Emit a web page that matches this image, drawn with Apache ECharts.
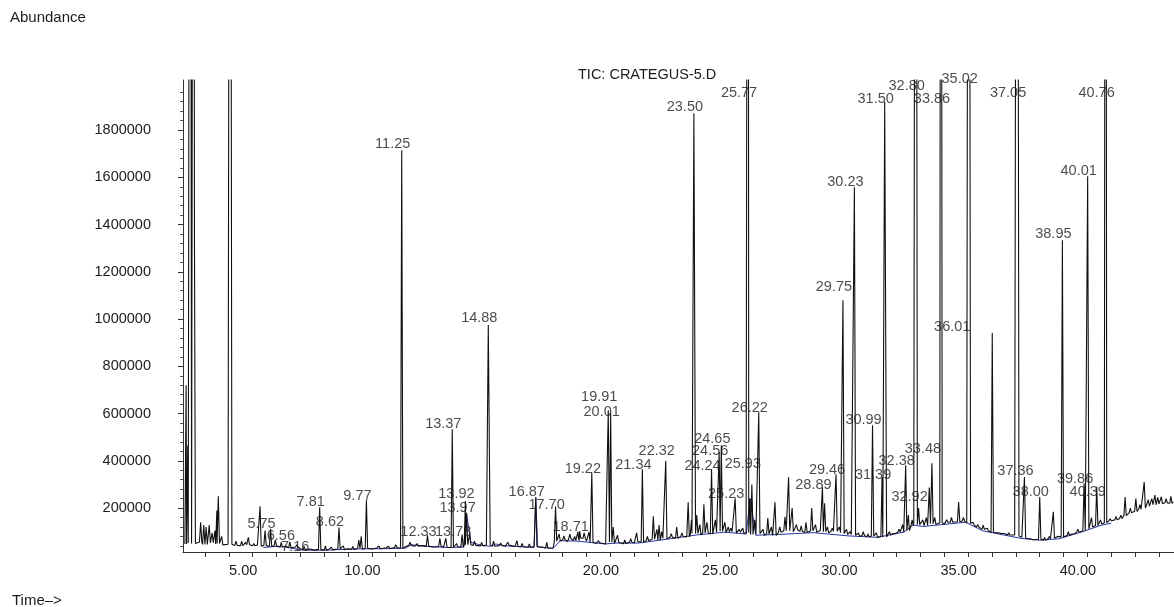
<!DOCTYPE html>
<html>
<head>
<meta charset="utf-8">
<script src="https://cdn.jsdelivr.net/npm/echarts@6.0.0/dist/echarts.min.js"></script>
<style>
html, body { margin: 0; padding: 0; background: #fff; }
#tic { width: 1174px; height: 607px; }
</style>
</head>
<body>
<div id="tic"></div>
<script>
// axis ranges and tick labels
var timeMin = 2.08, timeMax = 43.63;
var timeTicks = [5, 10, 15, 20, 25, 30, 35, 40];
var abundMin = 14000, abundMax = 2012000;
var abundTicks = [200000, 400000, 600000, 800000, 1000000, 1200000, 1400000, 1600000, 1800000];

// baseline of the trace, one value every 0.2 min from 2.2 min (thousands)
var baseStart = 2.2, baseStep = 0.2;
var baseK = [48, 52,
    50, 56, 46, 53, 48,   50, 44, 47, 42, 46,   41, 45, 40, 44, 38,   42, 37, 40, 35, 38,
    32, 35, 28, 24, 27,   22, 25, 21, 26, 23,   27, 24, 28, 25, 29,   26, 30, 27, 31, 28,
    32, 29, 33, 30, 36,   42, 38, 41, 36, 39,   35, 38, 34, 37, 33,   36, 34, 45, 48, 42,
    40, 44, 38, 45, 41,   39, 43, 37, 41, 36,   34, 37, 32, 35, 30,   31, 60, 66, 58, 70,
    63, 72, 60, 55, 50,   53, 48, 56, 50, 54,   49, 55, 52, 58, 56,   62, 68, 64, 72, 70,
    76, 72, 80, 78, 88,   92, 86, 95, 90, 98,   102, 96, 100, 94, 98,  92, 96, 88, 92, 85,
    90, 84, 92, 98, 104,  100, 108, 102, 96, 104, 98, 106, 100, 95, 102, 96, 92, 88, 84, 80,
    84, 78, 82, 76, 80,   78, 86, 92, 98, 105,  125, 138, 130, 126, 134, 130, 138, 132, 140, 136,
    142, 145, 136, 128, 120, 110, 104, 98, 95, 92, 90, 86, 82, 76, 72,  70, 66, 68, 64, 70,
    72, 75, 78, 84, 90,   98, 104, 112, 120, 126, 132, 138, 146, 150, 156, 168, 180, 186, 195, 200,
    208, 214, 218, 222, 220, 226];

// peaks: retention time (min) and apex (thousands); off-scale peaks estimated
var peakRT = [2.21, 2.28, 2.38, 2.52, 2.56, 2.82, 2.95, 3.05, 3.18, 3.30, 3.42, 3.50, 3.56, 3.70,
    4.05, 4.30, 4.54, 4.70, 4.82, 5.05, 5.31, 5.52, 5.75, 5.95, 6.20, 6.56, 6.85, 7.16, 7.81,
    8.05, 8.30, 8.62, 8.80, 9.20, 9.45, 9.55, 9.77, 10.30, 10.70, 11.00, 11.25, 11.60, 11.90,
    12.10, 12.33, 12.60, 12.85, 13.10, 13.37, 13.55, 13.78, 13.92, 13.97, 14.10, 14.30, 14.60,
    14.88, 15.10, 15.40, 15.70, 16.08, 16.30, 16.60, 16.87, 17.10, 17.33, 17.70, 17.85, 18.05,
    18.30, 18.50, 18.64, 18.71, 18.90, 19.10, 19.22, 19.50, 19.91, 20.01, 20.12, 20.30, 20.60,
    20.85, 21.10, 21.34, 21.55, 21.80, 21.95, 22.04, 22.15, 22.32, 22.55, 22.78, 23.00, 23.26,
    23.40, 23.50, 23.62, 23.75, 23.92, 24.05, 24.24, 24.40, 24.56, 24.65, 24.80, 24.94, 25.05,
    25.23, 25.40, 25.55, 25.77, 25.85, 25.93, 26.05, 26.22, 26.40, 26.60, 26.75, 26.90, 27.10,
    27.32, 27.47, 27.62, 27.80, 28.00, 28.20, 28.44, 28.60, 28.89, 28.98, 29.10, 29.30, 29.46,
    29.60, 29.75, 29.90, 30.05, 30.23, 30.40, 30.60, 30.80, 30.99, 31.15, 31.39, 31.50, 31.70,
    31.90, 32.10, 32.25, 32.38, 32.49, 32.65, 32.80, 32.92, 33.10, 33.25, 33.37, 33.48, 33.60,
    33.86, 34.10, 34.30, 34.60, 34.80, 35.02, 35.20, 35.40, 35.63, 35.80, 36.01, 36.20, 36.47,
    36.70, 36.90, 37.05, 37.20, 37.36, 37.55, 37.75, 38.00, 38.20, 38.40, 38.57, 38.75, 38.95,
    39.20, 39.40, 39.60, 39.86, 40.01, 40.17, 40.39, 40.55, 40.76, 40.95, 41.20, 41.40, 41.58,
    41.80, 42.03, 42.20, 42.38, 42.55, 42.70, 42.83, 42.95, 43.10, 43.30, 43.50];
var peakTopK = [720, 465, 6000, 6000, 1360, 140, 128, 120, 128, 95, 105, 190, 250, 80,
    6000, 60, 60, 55, 76, 50, 207, 105, 112, 65, 55, 57, 45, 36, 203,
    40, 35, 118, 40, 38, 65, 80, 233, 40, 38, 45, 1715, 55, 50,
    48, 85, 42, 72, 72, 534, 50, 88, 230, 180, 90, 60, 55,
    975, 60, 52, 55, 62, 50, 48, 245, 40, 55, 207, 90, 82,
    90, 80, 100, 102, 95, 98, 348, 62, 614, 605, 120, 85, 65,
    70, 95, 364, 80, 165, 110, 128, 100, 400, 92, 120, 95, 225,
    150, 1871, 170, 130, 216, 140, 364, 150, 437, 466, 140, 120, 115,
    241, 110, 115, 6000, 240, 300, 150, 606, 110, 158, 120, 225, 120,
    163, 330, 200, 130, 125, 140, 200, 130, 288, 220, 120, 115, 343,
    120, 1080, 110, 100, 1558, 95, 100, 90, 550, 95, 330, 1919, 100,
    95, 110, 130, 381, 170, 150, 6000, 200, 150, 160, 287, 390, 160,
    6000, 150, 160, 225, 160, 6000, 140, 130, 128, 115, 941, 100, 100,
    95, 90, 6000, 90, 331, 75, 72, 247, 75, 80, 184, 80, 1334,
    100, 95, 110, 305, 1605, 160, 290, 150, 6000, 155, 165, 170, 247,
    200, 240, 215, 310, 235, 240, 255, 245, 248, 240, 250];
var broadPeaks = [2.38, 2.52, 4.05, 14.88, 23.50, 25.77, 31.50, 32.80, 35.02, 37.05];

// labelled peaks and the height of the middle of each label (thousands)
var labelRT = [5.75, 6.56, 7.16, 7.81, 8.62, 9.77, 11.25, 12.33, 13.37, 13.78, 13.92, 13.97,
    14.88, 16.87, 17.70, 18.71, 19.22, 19.91, 20.01, 21.34, 22.32, 23.50, 24.24, 24.56, 24.65,
    25.23, 25.77, 25.93, 26.22, 28.89, 29.46, 29.75, 30.23, 30.99, 31.39, 31.50, 32.38, 32.80,
    32.92, 33.48, 33.86, 35.02, 36.01, 37.05, 37.36, 38.00, 38.95, 39.86, 40.01, 40.39, 40.76];
var labelK = [132, 81, 35, 225, 141, 251, 1741, 98, 556, 98, 259, 200,
    1005, 268, 213, 120, 365, 670, 606, 382, 441, 1899, 378, 441, 492,
    259, 1958, 386, 623, 297, 361, 1136, 1580, 573, 340, 1931, 399, 1986,
    247, 450, 1931, 2016, 966, 1958, 358, 269, 1360, 323, 1627, 269, 1958];

// integration baseline (blue)
var intRT = [5.45, 5.9, 6.3, 7.1, 7.9, 8.55, 9.4, 10.5, 11.4, 11.65, 12.2, 13.2, 13.85, 13.97,
    14.15, 14.6, 14.95, 15.2, 15.6, 16.8, 16.87, 16.95, 17.6, 17.9, 18.6, 19.8, 20.2, 21.2,
    22.5, 23.6, 24.8, 25.7, 25.85, 26.1, 27.0, 28.5, 30.0, 31.2, 32.3, 32.7, 33.1, 34.9,
    35.6, 37.2, 38.0, 38.8, 39.8, 40.6, 41.0];
var intK = [33, 37, 36, 22, 21, 24, 27, 28, 30, 45, 38, 33, 35, 175,
    55, 42, 38, 48, 40, 33, 245, 35, 30, 62, 60, 48, 52, 52,
    70, 86, 98, 90, 240, 85, 88, 96, 82, 76, 98, 128, 122, 140,
    104, 72, 64, 70, 100, 128, 136];

function baseAt(t) {
    var i = Math.round((t - baseStart) / baseStep);
    i = Math.max(0, Math.min(baseK.length - 1, i));
    return baseK[i];
}

function halfWidth(t) {
    return broadPeaks.indexOf(t) >= 0 ? 0.08 : 0.05;
}

// trace = baseline samples + a narrow triangle for each peak
var trace = [];
baseK.forEach(function (v, i) {
    var t = baseStart + i * baseStep;
    var hit = peakRT.some(function (p) { return Math.abs(p - t) <= halfWidth(p) + 0.01; });
    if (!hit) trace.push([t, v * 1000]);
});
peakRT.forEach(function (t, i) {
    var w = halfWidth(t);
    var b = baseAt(t) * 1000;
    trace.push([t - w, b], [t, peakTopK[i] * 1000], [t + w, b]);
});
trace.sort(function (a, b) { return a[0] - b[0]; });

var integration = intRT.map(function (t, i) { return [t, intK[i] * 1000]; });

// the 36.01 label sits further left of its peak than the others
var labelShift = { '36.01': -31 };
var labels = labelRT.map(function (t, i) {
    var key = t.toFixed(2);
    var item = { value: [t, labelK[i] * 1000] };
    if (labelShift[key]) item.label = { offset: [-9 + labelShift[key], 0] };
    return item;
});

var minorTime = [];
for (var m = 3; m <= 43; m++) minorTime.push(m);
var minorAbund = [];
for (var a = 40000; a <= 2000000; a += 40000) {
    if (a % 200000 !== 0) minorAbund.push(a);
}

var font = '"Liberation Sans", Arial, sans-serif';
var ink = '#1c1c1c';

var myChart = echarts.init(document.getElementById('tic'));
var option = {
    animation: false,
    backgroundColor: '#fff',
    grid: { left: 183, right: 0, top: 80, bottom: 55 },
    graphic: [
        { type: 'text', x: 10, y: 18, style: { text: 'Abundance', font: '15px ' + font, fill: ink, verticalAlign: 'middle' } },
        { type: 'text', x: 578, y: 75, style: { text: 'TIC: CRATEGUS-5.D', font: '14.5px ' + font, fill: ink, verticalAlign: 'middle' } },
        { type: 'text', x: 12, y: 601, style: { text: 'Time–>', font: '15px ' + font, fill: ink, verticalAlign: 'middle' } }
    ],
    xAxis: {
        type: 'value',
        min: timeMin,
        max: timeMax,
        axisLine: { onZero: false, lineStyle: { color: '#333', width: 1 } },
        axisTick: { show: true, customValues: minorTime, length: 5, lineStyle: { color: '#333' } },
        axisLabel: {
            customValues: timeTicks,
            formatter: function (v) { return v.toFixed(2); },
            margin: 11,
            padding: [0, 19, 0, 0],
            color: ink,
            fontSize: 14.5,
            fontFamily: font
        },
        splitLine: { show: false }
    },
    yAxis: [{
        type: 'value',
        min: abundMin,
        max: abundMax,
        axisLine: { show: true, onZero: false, lineStyle: { color: '#333', width: 1 } },
        axisTick: { show: true, customValues: abundTicks, length: 5, lineStyle: { color: '#333' } },
        axisLabel: {
            customValues: abundTicks,
            formatter: function (v) { return String(v); },
            margin: 32,
            color: ink,
            fontSize: 14.5,
            fontFamily: font
        },
        splitLine: { show: false }
    }, {
        type: 'value',
        position: 'left',
        min: abundMin,
        max: abundMax,
        axisLine: { show: false },
        axisTick: { show: true, customValues: minorAbund, length: 3, lineStyle: { color: '#555' } },
        axisLabel: { show: false },
        splitLine: { show: false }
    }],
    series: [{
        type: 'line',
        data: integration,
        showSymbol: false,
        z: 2,
        lineStyle: { color: '#2a34a6', width: 1 }
    }, {
        type: 'line',
        data: trace,
        showSymbol: false,
        z: 3,
        lineStyle: { color: '#111', width: 1.1 }
    }, {
        type: 'scatter',
        data: labels,
        symbolSize: 1,
        clip: false,
        silent: true,
        z: 4,
        itemStyle: { color: 'rgba(0,0,0,0)' },
        label: {
            show: true,
            position: 'inside',
            offset: [-9, 0],
            formatter: function (p) { return p.value[0].toFixed(2); },
            color: ink,
            fontSize: 14.5,
            fontFamily: font
        }
    }]
};
myChart.setOption(option, true);
</script>
</body>
</html>
